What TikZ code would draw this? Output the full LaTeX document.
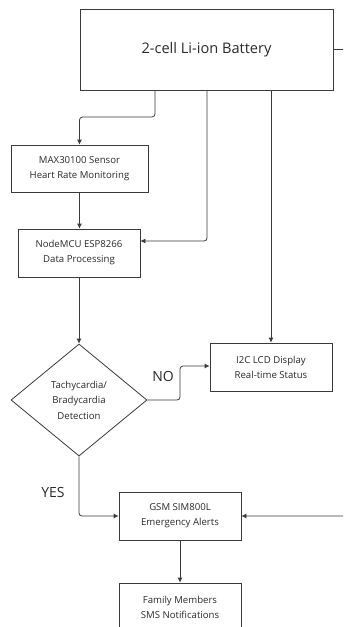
\documentclass[tikz,border=0pt]{standalone}
\usepackage{fontspec}
\setmainfont{Open Sans}
\usetikzlibrary{arrows.meta,shapes.geometric}
\definecolor{ln}{HTML}{3A3A3A}
\definecolor{tx}{HTML}{2A2A2A}
\tikzset{
  box/.style={draw=ln,line width=0.8pt,rectangle,inner sep=0pt,align=center,text=tx,font=\fontsize{9.6}{15}\selectfont},
  dec/.style={draw=ln,line width=0.8pt,diamond,inner sep=0pt,align=center,text=tx,font=\fontsize{9.6}{15.5}\selectfont,minimum width=136pt,minimum height=112pt},
  arr/.style={draw=ln,line width=0.8pt,rounded corners=3pt,-{Latex[length=5pt,width=5pt]}},
  lbl/.style={text=tx,font=\fontsize{14}{16}\selectfont,inner sep=0pt}
}
\begin{document}
\begin{tikzpicture}[x=1pt,y=-1pt]
\useasboundingbox (0,0) rectangle (343,627);
\fill[white] (0,0) rectangle (343,627);
\begin{scope}
\clip (0,0) rectangle (343,627);
\node[box,minimum width=253pt,minimum height=81pt,font=\fontsize{14.6}{16}\selectfont] (bat) at (206.5,49.5) {2-cell Li-ion Battery};
\node[box,minimum width=137pt,minimum height=47pt] (max) at (79.5,168.5) {MAX30100 Sensor\\Heart Rate Monitoring};
\node[box,minimum width=122pt,minimum height=48pt] (mcu) at (79,253) {NodeMCU ESP8266\\Data Processing};
\node[dec] (dia) at (79,400) {Tachycardia/\\Bradycardia\\Detection};
\node[box,minimum width=122pt,minimum height=48pt] (i2c) at (271,367) {I2C LCD Display\\Real-time Status};
\node[box,minimum width=122pt,minimum height=48pt] (gsm) at (180,516) {GSM SIM800L\\Emergency Alerts};
\node[box,minimum width=122pt,minimum height=48pt] (fam) at (180,607) {Family Members\\SMS Notifications};

\coordinate (c1) at (155,117);
\coordinate (c2) at (207,241);
\coordinate (c3) at (348,49.5);
\coordinate (c4) at (180,366);

\draw[arr] (bat.south -| c1) -- (c1) -- (c1 -| max.north) -- (max.north);
\draw[arr] (bat.south -| c2) -- (c2) -- (c2 -| mcu.east);
\draw[arr] (bat.south -| i2c.north) -- (i2c.north);
\draw[arr] (bat.east) -- (c3) -- (c3 |- gsm.east) -- (gsm.east);
\draw[arr] (max.south) -- (max.south |- mcu.north);
\draw[arr] (mcu.south) -- (dia.north);
\draw[arr] (dia.east) -- (dia.east -| c4) -- (c4) -- (c4 -| i2c.west);
\draw[arr] (dia.south) -- (dia.south |- gsm.west) -- (gsm.west);
\draw[arr] (gsm.south) -- (fam.north);

\node[lbl] (no) at (163,376) {NO};
\node[lbl] (yes) at (53,492) {YES};
\end{scope}
\end{tikzpicture}
\end{document}
